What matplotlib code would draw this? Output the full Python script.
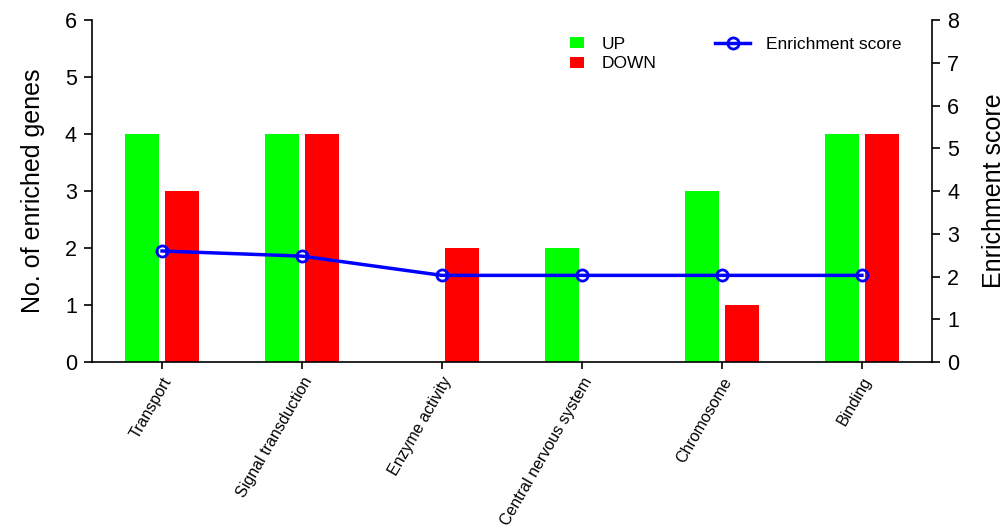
import matplotlib
matplotlib.use("Agg")
import matplotlib.pyplot as plt
import numpy as np
from matplotlib.patches import Patch
from matplotlib.lines import Line2D

categories = ["Transport", "Signal transduction", "Enzyme activity",
              "Central nervous system", "Chromosome", "Binding"]
up_counts = [4, 4, 0, 2, 3, 4]
down_counts = [3, 4, 2, 0, 1, 4]
enrichment = [2.60, 2.48, 2.03, 2.03, 2.03, 2.03]

plt.rcParams['font.family'] = ['Liberation Sans', 'DejaVu Sans']

fig = plt.figure(figsize=(10.07, 5.31), dpi=100)
ax = fig.add_axes([0.0914, 0.318, 0.834, 0.644])
x = np.arange(len(categories))
w = 0.24
ax.bar(x - 0.143, up_counts, width=w, color="#00ff00", zorder=2)
ax.bar(x + 0.143, [max(v, 0.01) for v in down_counts], width=w, color="#ff0000", zorder=2)
ax.set_xlim(-0.5, 5.5)
ax.set_ylim(0, 6)
ax.set_yticks(range(0, 7))
ax.set_xticks(x)
ax.set_xticklabels(categories, rotation=60, ha="right", rotation_mode="anchor", fontsize=11.5)
ax.tick_params(axis="y", labelsize=15.5, length=6, width=1.2, direction="out", pad=5)
ax.tick_params(axis="x", length=5, width=1.2, direction="out", pad=4)
ax.spines["top"].set_visible(False)
ax.spines["right"].set_visible(False)
ax.spines["left"].set_linewidth(1.2)
ax.spines["bottom"].set_linewidth(1.2)
ax.set_ylabel("No. of enriched genes", fontsize=18, labelpad=14)

ax2 = ax.twinx()
ax2.plot(x, enrichment, color="#0000ff", lw=2.5, marker="o", markersize=8,
         markerfacecolor="none", markeredgewidth=2, zorder=3)
ax2.set_ylim(0, 8)
ax2.set_yticks(range(0, 9))
ax2.tick_params(axis="y", labelsize=15.5, length=6, width=1.2, direction="out", pad=5)
ax2.spines["top"].set_visible(False)
ax2.spines["left"].set_visible(False)
ax2.spines["bottom"].set_visible(False)
ax2.spines["right"].set_linewidth(1.2)
ax2.set_ylabel("Enrichment score", fontsize=18, labelpad=16)

h1 = [Patch(facecolor="#00ff00"), Patch(facecolor="#ff0000")]
fig.legend(h1, ["UP", "DOWN"], loc="upper left", bbox_to_anchor=(0.551, 0.96),
           frameon=False, fontsize=12.5, handlelength=0.8, handleheight=0.6,
           labelspacing=0.25, handletextpad=1.0)
h2 = [Line2D([], [], color="#0000ff", lw=2.5, marker="o", markersize=8,
             markerfacecolor="none", markeredgewidth=2)]
fig.legend(h2, ["Enrichment score"], loc="upper left", bbox_to_anchor=(0.695, 0.96),
           frameon=False, fontsize=12.5, handlelength=2.0, handletextpad=0.9)

fig.savefig("out.png", dpi=100)
